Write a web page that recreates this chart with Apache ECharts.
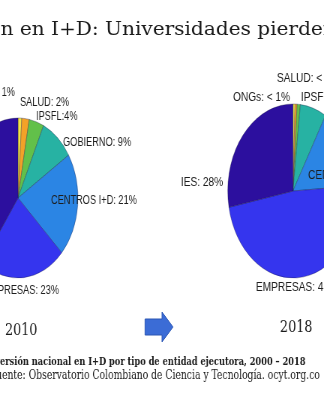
<!DOCTYPE html>
<html>
<head>
<meta charset="utf-8">
<script src="https://cdn.jsdelivr.net/npm/echarts@6/dist/echarts.min.js"></script>
<style>
  html, body { margin: 0; padding: 0; background: #fff; overflow: hidden; }
  #wrap { width: 324px; height: 400px; overflow: hidden; position: relative; }
  /* the slide is drawn 432px wide and narrowed to 324px */
  #chart { width: 432px; height: 400px; transform: scaleX(0.75); transform-origin: 0 0; }
</style>
</head>
<body>
<div id="wrap"><div id="chart"></div></div>
<script>
// Executing entity categories, in drawing order (clockwise from 12 o'clock)
const categories = ['ONGs', 'SALUD', 'IPSFL', 'GOBIERNO', 'CENTROS I+D', 'EMPRESAS', 'IES'];

// Share of national R&D investment (%)
const values2010 = [1, 2, 4, 9, 21, 23, 40];
const values2018 = [0.5, 0.5, 0.8, 6.5, 15.7, 48, 28];

// Label texts as printed on the slide
const labels2010 = ['ONGs: 1%', 'SALUD: 2%', 'IPSFL:4%', 'GOBIERNO: 9%', 'CENTROS I+D: 21%', 'EMPRESAS: 23%', 'IES: 40%'];
const labels2018 = ['ONGs: < 1%', 'SALUD: < 1%', 'IPSFL: 1%', 'GOBIERNO: 7%', 'CENTROS I+D: 16%', 'EMPRESAS: 48%', 'IES: 28%'];

const years = ['2010', '2018'];

const titleText = 'Inversión en I+D: Universidades pierden participación';
const captionText = 'Inversión nacional en I+D por tipo de entidad ejecutora, 2000 – 2018';
const sourceText = 'Fuente: Observatorio Colombiano de Ciencia y Tecnología. ocyt.org.co';

const sliceColors = ['#f5e447', '#f3a228', '#62c04a', '#27b2a3', '#2b85e4', '#3535ee', '#2c0f9e'];

const SX = 0.75; // horizontal squeeze of the slide
const cx = v => v / SX;

// label anchors [x, y, align] in on-screen pixels
const labelPos2010 = [
  [15, 93, 'right'], [20, 103, 'left'], [36, 117, 'left'], [63, 143, 'left'],
  [51, 201, 'left'], [59, 291, 'right'], [-30, 200, 'right']
];
const labelPos2018 = [
  [233, 97, 'left'], [277, 78, 'left'], [301, 97, 'left'], [334, 128, 'left'],
  [308, 175, 'left'], [256, 287, 'left'], [181, 182, 'left']
];

const measure = (str, font) => {
  const ctx = document.createElement('canvas').getContext('2d');
  ctx.font = font;
  return ctx.measureText(str).width;
};

function pieSeries(values, labels, positions, center, radius, fontSize) {
  return {
    type: 'pie',
    center: center,
    radius: radius,
    startAngle: 90,
    clockwise: true,
    silent: true,
    animation: false,
    avoidLabelOverlap: false,
    itemStyle: { borderColor: 'rgba(20,20,60,0.55)', borderWidth: 0.6 },
    label: {
      show: true,
      position: 'inside',
      fontFamily: 'Liberation Sans',
      fontSize: fontSize,
      color: '#1d1d1d',
      formatter: p => labels[p.dataIndex]
    },
    labelLine: { show: false },
    labelLayout: p => {
      const q = positions[p.dataIndex];
      return { x: cx(q[0]), y: q[1], align: q[2], verticalAlign: 'middle', hideOverlap: false };
    },
    data: values.map((v, i) => ({ name: categories[i], value: v, itemStyle: { color: sliceColors[i] } }))
  };
}

const titleFont = '19px "DejaVu Serif"';
const titleScale = 1.41;
const capFont = 'bold 11px "DejaVu Serif"';
const srcFont = '12.3px "DejaVu Serif"';

const chart = echarts.init(document.getElementById('chart'), null, { renderer: 'canvas' });
chart.setOption({
  animation: false,
  backgroundColor: '#ffffff',
  series: [
    pieSeries(values2010, labels2010, labelPos2010, [cx(18), 198], 80, 12.3),
    pieSeries(values2018, labels2018, labelPos2018, [cx(293), 191], 87, 13.5)
  ],
  graphic: [
    {
      type: 'text', silent: true,
      x: cx(0.5) - measure('Inversió', titleFont) * titleScale, y: 30,
      scaleX: titleScale,
      style: { text: titleText, font: titleFont, fill: '#1a1a1a', verticalAlign: 'middle' }
    },
    {
      type: 'polygon', silent: true,
      shape: { points: [[cx(145), 319], [cx(162), 319], [cx(162), 312], [cx(173), 327], [cx(162), 342], [cx(162), 335], [cx(145), 335]] },
      style: { fill: '#3b6cd6', stroke: '#2c57b3', lineWidth: 1 }
    },
    {
      type: 'text', silent: true, x: cx(5), y: 331,
      style: { text: years[0], font: '17px "DejaVu Serif"', fill: '#1a1a1a', verticalAlign: 'middle' }
    },
    {
      type: 'text', silent: true, x: cx(280), y: 328,
      style: { text: years[1], font: '17px "DejaVu Serif"', fill: '#1a1a1a', verticalAlign: 'middle' }
    },
    {
      type: 'text', silent: true,
      x: cx(0) - measure('Inv', capFont), y: 362,
      style: { text: captionText, font: capFont, fill: '#1a1a1a', verticalAlign: 'middle' }
    },
    {
      type: 'text', silent: true,
      x: cx(2) - measure('Fu', srcFont), y: 376,
      style: { text: sourceText, font: srcFont, fill: '#1a1a1a', verticalAlign: 'middle' }
    }
  ]
});
</script>
</body>
</html>
